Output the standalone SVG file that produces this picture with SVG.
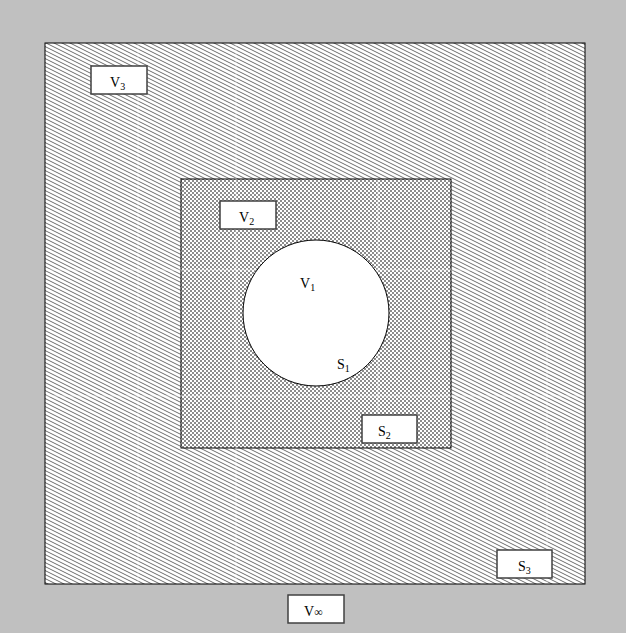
<svg xmlns="http://www.w3.org/2000/svg" width="626" height="633" viewBox="0 0 626 633">
<defs>
<pattern id="hatch" patternUnits="userSpaceOnUse" x="0" y="0" width="8" height="4">
<rect width="8" height="4" fill="#ffffff"/>
<path d="M-8,-4 L16,8 M-8,0 L8,8 M0,-4 L16,4" stroke="#6c6c6c" stroke-width="1"/>
</pattern>
<pattern id="check" patternUnits="userSpaceOnUse" x="0" y="0" width="4" height="4">
<rect width="4" height="4" fill="#ffffff"/>
<rect width="2" height="2" fill="#8c8c8c"/>
<rect x="2" y="2" width="2" height="2" fill="#8c8c8c"/>
</pattern>
</defs>
<style>
.box{fill:#ffffff;stroke:#404040;stroke-width:1.5}
.lbl{font-family:"Liberation Serif","Times New Roman",serif;font-size:14px;fill:#000000}
.sub{font-size:10px}
.seam{stroke:#ffffff;stroke-width:1;opacity:0.5}
</style>
<rect x="0" y="0" width="626" height="633" fill="#c0c0c0"/>
<g id="region3">
<rect x="45" y="43" width="540" height="541" fill="url(#hatch)" stroke="#000000" stroke-width="1"/>
</g>
<g id="region2">
<rect x="181" y="179" width="270" height="269" fill="url(#check)" stroke="#000000" stroke-width="1"/>
</g>
<g id="seams">
<line class="seam" x1="138" y1="44" x2="138" y2="583"/>
<line class="seam" x1="236" y1="44" x2="236" y2="583"/>
<line class="seam" x1="378" y1="180" x2="378" y2="447"/>
<line class="seam" x1="547" y1="44" x2="547" y2="583"/>
<line class="seam" x1="46" y1="270" x2="584" y2="270"/>
<line class="seam" x1="46" y1="396" x2="584" y2="396"/>
</g>
<g id="region1">
<circle cx="316" cy="313" r="73" fill="#ffffff" stroke="#000000" stroke-width="1"/>
<text class="lbl" x="300" y="288">V<tspan class="sub" dy="3">1</tspan></text>
<text class="lbl" x="337" y="369">S<tspan class="sub" dy="3">1</tspan></text>
</g>
<g id="V3">
<rect class="box" x="91" y="66" width="56" height="28"/>
<text class="lbl" x="110" y="87">V<tspan class="sub" dy="3">3</tspan></text>
</g>
<g id="V2">
<rect class="box" x="220" y="201" width="56" height="28"/>
<text class="lbl" x="239" y="222">V<tspan class="sub" dy="3">2</tspan></text>
</g>
<g id="S2">
<rect class="box" x="362" y="415" width="55" height="28"/>
<text class="lbl" x="378" y="436">S<tspan class="sub" dy="3">2</tspan></text>
</g>
<g id="S3">
<rect class="box" x="497" y="550" width="55" height="28"/>
<text class="lbl" x="518" y="571">S<tspan class="sub" dy="3">3</tspan></text>
</g>
<g id="Vinf">
<rect class="box" x="288" y="595" width="56" height="28"/>
<text class="lbl" x="304" y="616">V<tspan font-size="12px">∞</tspan></text>
</g>
</svg>
